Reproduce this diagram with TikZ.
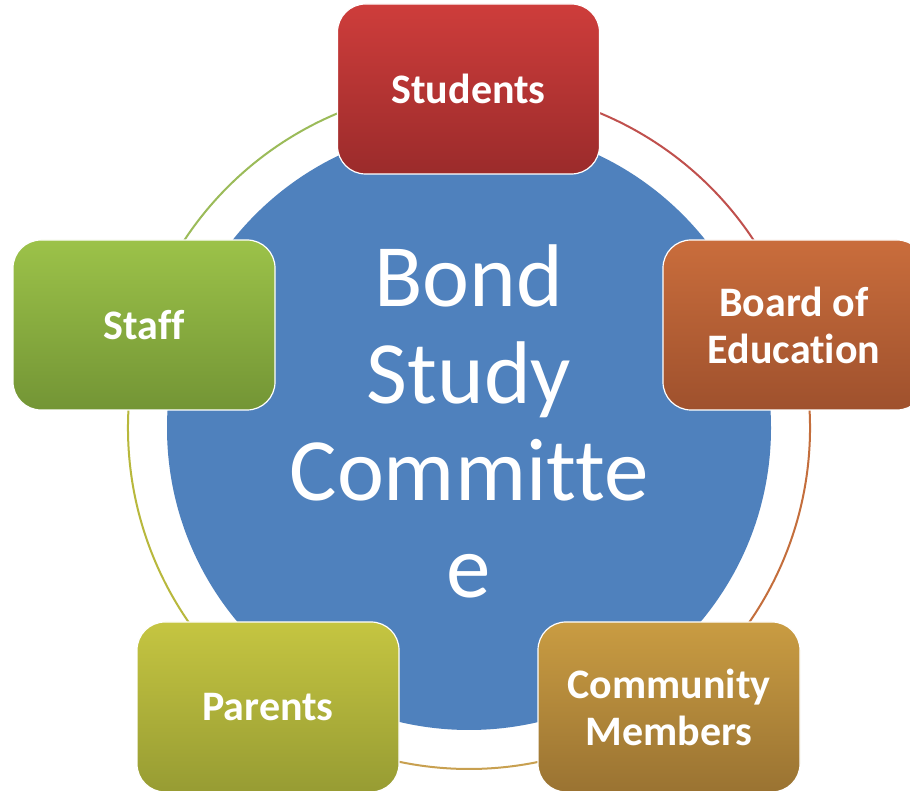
\documentclass[tikz,border=0pt]{standalone}
\usepackage{fontspec}
\setmainfont{Carlito}[Ligatures=NoCommon]
\definecolor{bluec}{HTML}{4F81BD}
\definecolor{redT}{HTML}{CE3D3B}\definecolor{redB}{HTML}{9B2B2B}
\definecolor{orT}{HTML}{C96D3C}\definecolor{orB}{HTML}{9F512D}
\definecolor{goT}{HTML}{C99C42}\definecolor{goB}{HTML}{9A7332}
\definecolor{olT}{HTML}{C5C541}\definecolor{olB}{HTML}{979C33}
\definecolor{grT}{HTML}{9CC249}\definecolor{grB}{HTML}{739535}
\definecolor{ringR}{HTML}{C0504D}
\definecolor{ringO}{HTML}{C46E3C}
\definecolor{ringG}{HTML}{C8A050}
\definecolor{ringL}{HTML}{B8B83C}
\definecolor{ringN}{HTML}{9BBB59}
\tikzset{
  member/.style={rounded corners=28pt, minimum width=262pt, minimum height=170pt,
    draw=white, line width=1.2pt, text=white, align=center,
    font={\bfseries\fontsize{42}{47}\selectfont}},
  ring/.style={line width=2pt},
}
\begin{document}
\begin{tikzpicture}[x=1pt,y=1pt]
\useasboundingbox (0,0) rectangle (910,791);
\clip (0,0) rectangle (910,791);
\fill[white] (0,0) rectangle (910,791);
\coordinate (o) at (469,363);
\node[circle, fill=bluec, minimum size=604pt, inner sep=0pt] (hub) at (o) {};
\draw[ring, ringR] ([shift={(90:341pt)}]o) arc[start angle=90, end angle=18, radius=341pt];
\draw[ring, ringO] ([shift={(18:341pt)}]o) arc[start angle=18, end angle=-54, radius=341pt];
\draw[ring, ringG] ([shift={(-54:341pt)}]o) arc[start angle=-54, end angle=-126, radius=341pt];
\draw[ring, ringL] ([shift={(-126:341pt)}]o) arc[start angle=-126, end angle=-198, radius=341pt];
\draw[ring, ringN] ([shift={(162:341pt)}]o) arc[start angle=162, end angle=90, radius=341pt];
\node[member, top color=redT, bottom color=redB] (students) at (468.5,702) {Students};
\node[member, top color=orT, bottom color=orB] (board) at (794,466) {Board of\\Education};
\node[member, top color=goT, bottom color=goB] (community) at (669,84) {Community\\Members};
\node[member, top color=olT, bottom color=olB] (parents) at (268,84) {Parents};
\node[member, top color=grT, bottom color=grB] (staff) at (144,466) {Staff};
\node[text=white, align=center, anchor=base, font={\fontsize{89}{97}\selectfont}] (title) at (469,193) {Bond\\Study\\Committe\\e};
\end{tikzpicture}
\end{document}
